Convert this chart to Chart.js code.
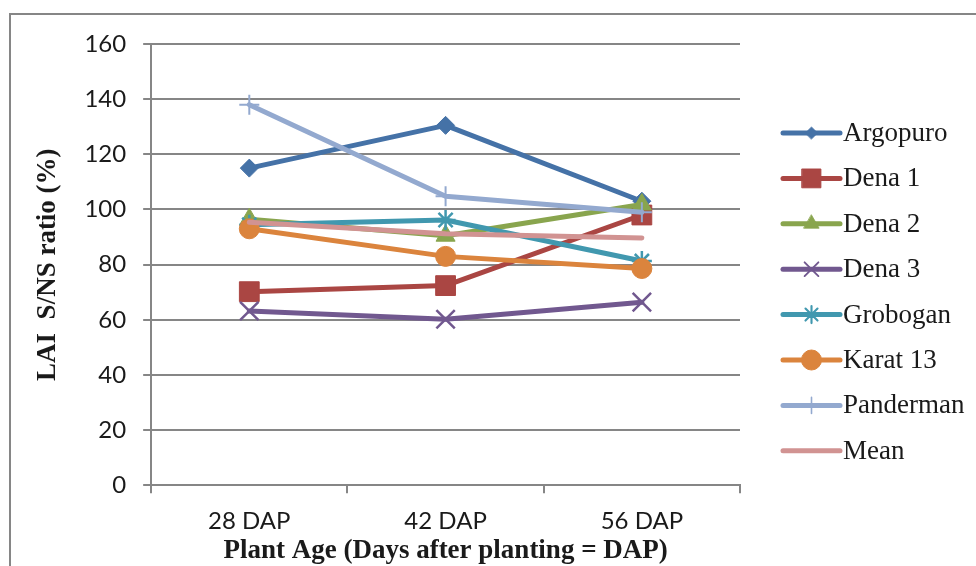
<!DOCTYPE html>
<html>
<head>
<meta charset="utf-8">
<script src="https://cdn.jsdelivr.net/npm/chart.js@4/dist/chart.umd.min.js"></script>
<style>
  html, body { margin: 0; padding: 0; background: #fff; }
  #wrap { width: 976px; height: 566px; position: relative; }
</style>
</head>
<body>
<div id="wrap"><canvas id="c" width="976" height="566"></canvas></div>
<script>
// Sampling dates
const categories = ['28 DAP', '42 DAP', '56 DAP'];

// LAI S/NS ratio (%) per variety at each sampling date
const argopuro  = [115, 130.5, 103];
const dena1     = [70.2, 72.4, 98];
const dena2     = [96.5, 90.5, 101.8];
const dena3     = [63.2, 60.2, 66.4];
const grobogan  = [94.5, 96.2, 81.3];
const karat13   = [93, 83, 78.6];
const panderman = [138, 104.8, 99];
const mean      = [95.4, 91.2, 89.7];

const seriesNames = ['Argopuro', 'Dena 1', 'Dena 2', 'Dena 3', 'Grobogan', 'Karat 13', 'Panderman', 'Mean'];

// y axis tick values
const yTicks = [0, 20, 40, 60, 80, 100, 120, 140, 160];

const seriesValues = [argopuro, dena1, dena2, dena3, grobogan, karat13, panderman, mean];
const colors = ['#4572A7', '#AA4643', '#89A54E', '#71588F', '#4198AF', '#DB843D', '#93A9CF', '#D19392'];
// marker shape, size on the plot, and relative size in the legend
const markers = [
  { style: 'rectRot',  radius: 9,  bw: 1,   legendScale: 0.68 },
  { style: 'rect',     radius: 14, bw: 1,   legendScale: 0.95 },
  { style: 'triangle', radius: 11, bw: 1,   legendScale: 0.8 },
  { style: 'crossRot', radius: 13, bw: 2.5, legendScale: 0.75 },
  { style: 'star',     radius: 10, bw: 2.5, legendScale: 0.85 },
  { style: 'circle',   radius: 10, bw: 1,   legendScale: 1 },
  { style: 'cross',    radius: 10, bw: 2,   legendScale: 0.8 },
  { style: false,      radius: 0,  bw: 0,   legendScale: 1 }
];

const N = seriesNames.length;
const datasets = seriesNames.map((name, i) => ({
  label: name,
  data: seriesValues[i],
  borderColor: colors[i],
  backgroundColor: colors[i],
  borderWidth: 5,
  borderCapStyle: 'round',
  borderJoinStyle: 'round',
  tension: 0,
  fill: false,
  pointStyle: markers[i].style,
  pointRadius: markers[i].radius,
  pointHoverRadius: markers[i].radius,
  pointBorderWidth: markers[i].bw,
  pointBorderColor: colors[i],
  pointBackgroundColor: colors[i],
  order: N - i
}));

const gridGray = '#868686';
const textColor = '#1a1a1a';

// White page with the thin grey frame on the top and left
const framePlugin = {
  id: 'frame',
  beforeDraw(chart) {
    const ctx = chart.ctx;
    ctx.save();
    ctx.fillStyle = '#fff';
    ctx.fillRect(0, 0, chart.width, chart.height);
    ctx.strokeStyle = gridGray;
    ctx.lineWidth = 2;
    ctx.beginPath();
    ctx.moveTo(10, chart.height);
    ctx.lineTo(10, 14);
    ctx.lineTo(chart.width, 14);
    ctx.stroke();
    ctx.restore();
  }
};

// Legend with a line sample and the series marker in its middle
const lineLegendPlugin = {
  id: 'lineLegend',
  afterDraw(chart) {
    const ctx = chart.ctx;
    const x0 = 783, x1 = 840, textX = 843, top = 133, pitch = 45.4;
    ctx.save();
    chart.data.datasets.forEach((ds, i) => {
      const y = top + i * pitch;
      const cx = (x0 + x1) / 2;
      ctx.strokeStyle = ds.borderColor;
      ctx.lineWidth = 5;
      ctx.lineCap = 'round';
      ctx.beginPath();
      ctx.moveTo(x0, y);
      ctx.lineTo(x1, y);
      ctx.stroke();
      const meta = chart.getDatasetMeta(i);
      const el = meta.data[0];
      if (el && ds.pointStyle) {
        const s = markers[i].legendScale;
        ctx.save();
        ctx.translate(cx, y);
        ctx.scale(s, s);
        ctx.translate(-el.x, -el.y);
        el.draw(ctx);
        ctx.restore();
      }
      ctx.fillStyle = textColor;
      ctx.font = '27px "Liberation Serif", "Times New Roman", serif';
      ctx.textBaseline = 'middle';
      ctx.textAlign = 'left';
      ctx.fillText(ds.label, textX, y + 1);
    });
    ctx.restore();
  }
};

new Chart(document.getElementById('c'), {
  type: 'line',
  data: { labels: categories, datasets },
  options: {
    responsive: false,
    animation: false,
    events: [],
    layout: { padding: { left: 10, right: 236, top: 44, bottom: 0 } },
    plugins: {
      legend: { display: false },
      tooltip: { enabled: false }
    },
    scales: {
      x: {
        offset: true,
        grid: {
          display: true,
          drawOnChartArea: false,
          drawTicks: true,
          tickLength: 8,
          color: gridGray,
          lineWidth: 2,
          offset: true
        },
        border: { display: true, color: gridGray, width: 2 },
        ticks: {
          color: textColor,
          font: { family: 'Lato, "Open Sans", sans-serif', size: 24, lineHeight: 1.0 },
          padding: 16
        },
        title: {
          display: true,
          text: 'Plant Age (Days after planting = DAP)',
          color: textColor,
          font: { family: '"Liberation Serif", "Times New Roman", serif', size: 27, weight: 'bold', lineHeight: 1.1 },
          padding: { top: -13, bottom: 0 }
        }
      },
      y: {
        min: 0,
        max: 160,
        afterBuildTicks(scale) {
          scale.ticks = yTicks.map(v => ({ value: v }));
        },
        grid: {
          color: gridGray,
          lineWidth: 2,
          tickLength: 8,
          drawTicks: true
        },
        border: { display: true, color: gridGray, width: 2 },
        ticks: {
          color: textColor,
          font: { family: 'Lato, "Open Sans", sans-serif', size: 24 },
          padding: 17
        },
        title: {
          display: true,
          text: 'LAI  S/NS ratio (%)',
          color: textColor,
          font: { family: '"Liberation Serif", "Times New Roman", serif', size: 27, weight: 'bold' },
          padding: { top: 22, bottom: 3 }
        }
      }
    }
  },
  plugins: [framePlugin, lineLegendPlugin]
});
</script>
</body>
</html>
